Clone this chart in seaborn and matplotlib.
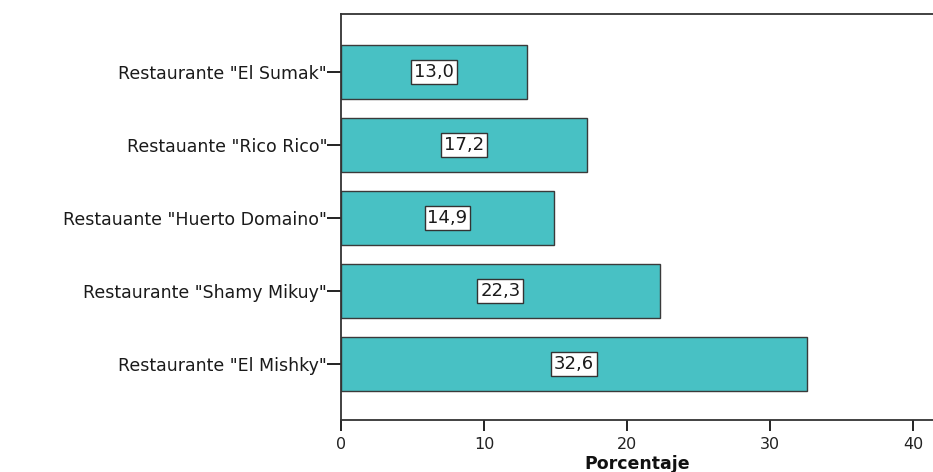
import matplotlib
matplotlib.use("Agg")
import matplotlib.pyplot as plt
import seaborn as sns
import pandas as pd

restaurantes = [
    'Restaurante "El Sumak"',
    'Restauante "Rico Rico"',
    'Restauante "Huerto Domaino"',
    'Restaurante "Shamy Mikuy"',
    'Restaurante "El Mishky"',
]
porcentajes = [13.0, 17.2, 14.9, 22.3, 32.6]
xticks = [0, 10, 20, 30, 40]

df = pd.DataFrame({"Restaurante": restaurantes, "Porcentaje": porcentajes})

sns.set_style("white")
plt.rcParams["font.family"] = ["DejaVu Sans"]

fig = plt.figure(figsize=(9.33, 4.72), dpi=100)
ax = fig.add_axes([341 / 933, 52 / 472, 1 - 341 / 933, 406 / 472])

sns.barplot(data=df, x="Porcentaje", y="Restaurante", orient="h",
            color="#48C1C4", saturation=1, width=0.74,
            edgecolor="#3a3a3a", linewidth=1.0, ax=ax)

# value labels in white boxes at the middle of each bar
for i, v in enumerate(porcentajes):
    ax.text(v / 2, i, f"{v:.1f}".replace(".", ","), ha="center", va="center",
            fontsize=13, color="#1a1a1a",
            bbox=dict(boxstyle="square,pad=0.16", facecolor="white",
                      edgecolor="#333333", linewidth=1.0))

ax.set_xlim(0, 41.4)
ax.set_ylim(4.767, -0.795)
ax.set_xticks(xticks)
ax.set_xticklabels([str(t) for t in xticks], fontsize=11.5, color="#222222")
ax.tick_params(axis="y", labelsize=12.5, labelcolor="#1a1a1a", length=10, pad=0)
ax.tick_params(axis="x", length=8, pad=4)
ax.tick_params(axis="both", direction="out", width=1.4,
               color="#222222", left=True, bottom=True)
ax.set_ylabel("")
ax.set_xlabel("")
fig.text((341 + 933) / 2 / 933, 1 - 455 / 472, "Porcentaje",
         ha="center", va="top", fontsize=12.5, fontweight="bold",
         color="#111111")

for side in ["left", "bottom", "top"]:
    ax.spines[side].set_color("#333333")
    ax.spines[side].set_linewidth(1.3)
ax.spines["right"].set_visible(False)

fig.savefig("out.png", dpi=100)
